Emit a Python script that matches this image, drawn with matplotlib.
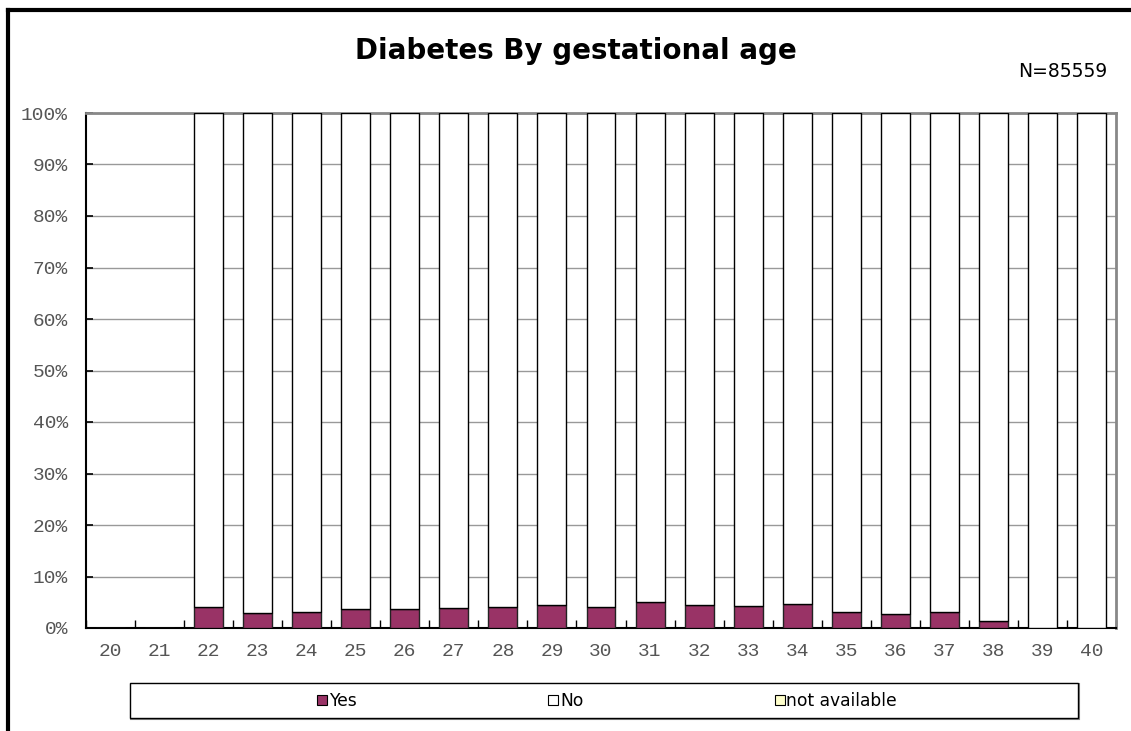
import matplotlib
matplotlib.use("Agg")
import matplotlib.pyplot as plt
from matplotlib.patches import Rectangle
from matplotlib.lines import Line2D
import numpy as np

categories = ["20", "21", "22", "23", "24", "25", "26", "27", "28", "29", "30",
              "31", "32", "33", "34", "35", "36", "37", "38", "39", "40"]
yes = [0, 0, 4.0, 2.9, 3.1, 3.7, 3.7, 3.9, 4.0, 4.4, 4.1,
       5.0, 4.4, 4.3, 4.6, 3.2, 2.8, 3.2, 1.4, 0.0, 0.0]
has_data = [0, 0, 1, 1, 1, 1, 1, 1, 1, 1, 1,
            1, 1, 1, 1, 1, 1, 1, 1, 1, 1]
no = [(100 - y) if d else 0 for y, d in zip(yes, has_data)]
not_available = [0] * 21
ytick_labels = ["0%", "10%", "20%", "30%", "40%", "50%", "60%", "70%", "80%", "90%", "100%"]

W, H = 1131, 731
fig = plt.figure(figsize=(W / 100, H / 100), dpi=100)
fig.patch.set_facecolor("white")

L, R, T, B = 86, 1116, 113, 628
ax = fig.add_axes([L / W, 1 - B / H, (R - L) / W, (B - T) / H])

x = np.arange(len(categories))
bw = 0.59
ax.bar(x, yes, bw, color="#993366", edgecolor="#222222", linewidth=1.0, zorder=3)
ax.bar(x, no, bw, bottom=yes, color="white", edgecolor="black", linewidth=1.0, zorder=3)

ax.set_xlim(-0.5, len(categories) - 0.5)
ax.set_ylim(0, 100)
ax.set_yticks(np.arange(0, 101, 10))
ax.set_yticklabels(ytick_labels, family="Liberation Mono", fontsize=14, color="#555555")
ax.set_xticks(x)
ax.set_xticklabels(categories, family="Liberation Mono", fontsize=14, color="#555555")
ax.tick_params(axis="x", length=0, pad=11)
ax.tick_params(axis="y", direction="in", length=5, width=1.2, pad=13)
ax.set_xticks(np.arange(-0.5, len(categories)), minor=True)
ax.tick_params(axis="x", which="minor", direction="in", length=6, width=1.0)
ax.yaxis.grid(True, color="#999999", linewidth=1.0, zorder=0)
ax.set_axisbelow(True)
for s in ["top", "right"]:
    ax.spines[s].set_color("#888888")
    ax.spines[s].set_linewidth(2)
for s in ["left", "bottom"]:
    ax.spines[s].set_color("black")
    ax.spines[s].set_linewidth(1.5)

fig.text(576 / W, 1 - 59 / H, "Diabetes By gestational age", ha="center", va="baseline",
         fontsize=20, fontweight="bold", family="DejaVu Sans")
fig.text(1063 / W, 1 - 77 / H, "N=85559", ha="center", va="baseline", fontsize=13.5,
         family="DejaVu Sans")

# outer frame lines (top and left)
fig.add_artist(Line2D([8 / W, 1.0], [1 - 10 / H, 1 - 10 / H], transform=fig.transFigure,
                      color="black", linewidth=3))
fig.add_artist(Line2D([8 / W, 8 / W], [0, 1 - 10 / H], transform=fig.transFigure,
                      color="black", linewidth=3))

# legend box
fig.add_artist(Rectangle((131 / W, 1 - 719 / H), 948 / W, 35 / H, transform=fig.transFigure,
                         facecolor="none", edgecolor="#888888", linewidth=1.5))
fig.add_artist(Rectangle((130 / W, 1 - 718 / H), 948 / W, 35 / H, transform=fig.transFigure,
                         facecolor="white", edgecolor="black", linewidth=1.0))
handles = [Rectangle((0, 0), 1, 1, facecolor="#993366", edgecolor="black", linewidth=0.8),
           Rectangle((0, 0), 1, 1, facecolor="white", edgecolor="black", linewidth=0.8),
           Rectangle((0, 0), 1, 1, facecolor="#FFFFCC", edgecolor="black", linewidth=0.8)]
fig.legend(handles, ["Yes", "No", "not available"], loc="center",
           bbox_to_anchor=(607 / W, 1 - 701 / H), ncol=3, frameon=False,
           handlelength=0.6, handleheight=0.6, handletextpad=0.1, columnspacing=11.2,
           prop={"family": "DejaVu Sans", "size": 12.3})

fig.savefig("out.png", dpi=100)
